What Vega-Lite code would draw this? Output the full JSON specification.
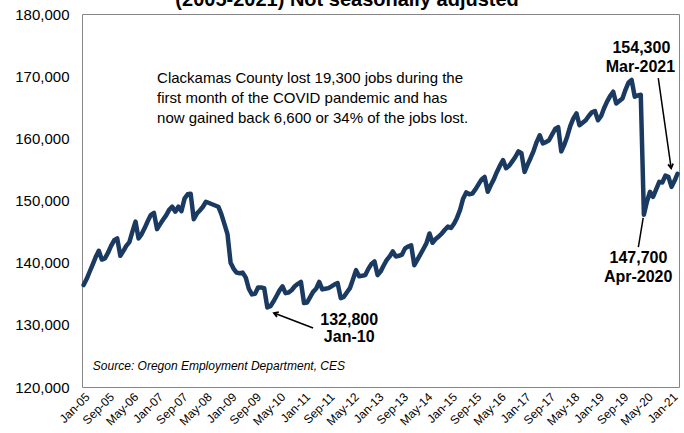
{
  "$schema": "https://vega.github.io/schema/vega-lite/v6.json",
  "autosize": {"type": "none"},
  "padding": {"left": 82, "top": 14, "right": 5, "bottom": 46},
  "width": 597,
  "height": 373,
  "background": "white",
  "config": {
    "view": {"stroke": "#868686", "strokeWidth": 1},
    "font": "Liberation Sans",
    "axis": {"labelFont": "Liberation Sans", "labelColor": "#000000", "grid": false, "ticks": false, "domain": false, "title": null}
  },
  "datasets": {
    "jobs": [
      {"date": "2005-01-01", "jobs": 136400}, {"date": "2005-02-01", "jobs": 137400}, {"date": "2005-03-01", "jobs": 138500}, {"date": "2005-04-01", "jobs": 139700}, {"date": "2005-05-01", "jobs": 140900}, {"date": "2005-06-01", "jobs": 141900}, {"date": "2005-07-01", "jobs": 140500}, {"date": "2005-08-01", "jobs": 140700}, {"date": "2005-09-01", "jobs": 141600}, {"date": "2005-10-01", "jobs": 142700}, {"date": "2005-11-01", "jobs": 143600}, {"date": "2005-12-01", "jobs": 143900},
      {"date": "2006-01-01", "jobs": 141100}, {"date": "2006-02-01", "jobs": 141900}, {"date": "2006-03-01", "jobs": 142700}, {"date": "2006-04-01", "jobs": 143300}, {"date": "2006-05-01", "jobs": 145000}, {"date": "2006-06-01", "jobs": 146600}, {"date": "2006-07-01", "jobs": 143900}, {"date": "2006-08-01", "jobs": 144600}, {"date": "2006-09-01", "jobs": 145600}, {"date": "2006-10-01", "jobs": 146700}, {"date": "2006-11-01", "jobs": 147700}, {"date": "2006-12-01", "jobs": 148000},
      {"date": "2007-01-01", "jobs": 145400}, {"date": "2007-02-01", "jobs": 146200}, {"date": "2007-03-01", "jobs": 146900}, {"date": "2007-04-01", "jobs": 147600}, {"date": "2007-05-01", "jobs": 148500}, {"date": "2007-06-01", "jobs": 149000}, {"date": "2007-07-01", "jobs": 148200}, {"date": "2007-08-01", "jobs": 149000}, {"date": "2007-09-01", "jobs": 148300}, {"date": "2007-10-01", "jobs": 150300}, {"date": "2007-11-01", "jobs": 151000}, {"date": "2007-12-01", "jobs": 151100},
      {"date": "2008-01-01", "jobs": 147000}, {"date": "2008-02-01", "jobs": 147900}, {"date": "2008-03-01", "jobs": 148400}, {"date": "2008-04-01", "jobs": 149000}, {"date": "2008-05-01", "jobs": 149800}, {"date": "2008-06-01", "jobs": 149600}, {"date": "2008-07-01", "jobs": 149400}, {"date": "2008-08-01", "jobs": 149200}, {"date": "2008-09-01", "jobs": 149000}, {"date": "2008-10-01", "jobs": 147800}, {"date": "2008-11-01", "jobs": 146200}, {"date": "2008-12-01", "jobs": 144600},
      {"date": "2009-01-01", "jobs": 140000}, {"date": "2009-02-01", "jobs": 139000}, {"date": "2009-03-01", "jobs": 138400}, {"date": "2009-04-01", "jobs": 138300}, {"date": "2009-05-01", "jobs": 138400}, {"date": "2009-06-01", "jobs": 137600}, {"date": "2009-07-01", "jobs": 135800}, {"date": "2009-08-01", "jobs": 134900}, {"date": "2009-09-01", "jobs": 135000}, {"date": "2009-10-01", "jobs": 136000}, {"date": "2009-11-01", "jobs": 136000}, {"date": "2009-12-01", "jobs": 135900},
      {"date": "2010-01-01", "jobs": 132800}, {"date": "2010-02-01", "jobs": 133000}, {"date": "2010-03-01", "jobs": 133700}, {"date": "2010-04-01", "jobs": 134600}, {"date": "2010-05-01", "jobs": 135500}, {"date": "2010-06-01", "jobs": 136200}, {"date": "2010-07-01", "jobs": 135100}, {"date": "2010-08-01", "jobs": 135200}, {"date": "2010-09-01", "jobs": 135600}, {"date": "2010-10-01", "jobs": 136200}, {"date": "2010-11-01", "jobs": 136600}, {"date": "2010-12-01", "jobs": 136900},
      {"date": "2011-01-01", "jobs": 133500}, {"date": "2011-02-01", "jobs": 133600}, {"date": "2011-03-01", "jobs": 134400}, {"date": "2011-04-01", "jobs": 135300}, {"date": "2011-05-01", "jobs": 135800}, {"date": "2011-06-01", "jobs": 136900}, {"date": "2011-07-01", "jobs": 135700}, {"date": "2011-08-01", "jobs": 135800}, {"date": "2011-09-01", "jobs": 135900}, {"date": "2011-10-01", "jobs": 136200}, {"date": "2011-11-01", "jobs": 136500}, {"date": "2011-12-01", "jobs": 136700},
      {"date": "2012-01-01", "jobs": 134300}, {"date": "2012-02-01", "jobs": 134500}, {"date": "2012-03-01", "jobs": 135200}, {"date": "2012-04-01", "jobs": 135900}, {"date": "2012-05-01", "jobs": 137300}, {"date": "2012-06-01", "jobs": 138800}, {"date": "2012-07-01", "jobs": 137800}, {"date": "2012-08-01", "jobs": 137900}, {"date": "2012-09-01", "jobs": 138000}, {"date": "2012-10-01", "jobs": 139000}, {"date": "2012-11-01", "jobs": 139800}, {"date": "2012-12-01", "jobs": 140200},
      {"date": "2013-01-01", "jobs": 138000}, {"date": "2013-02-01", "jobs": 138600}, {"date": "2013-03-01", "jobs": 139500}, {"date": "2013-04-01", "jobs": 140400}, {"date": "2013-05-01", "jobs": 141000}, {"date": "2013-06-01", "jobs": 141800}, {"date": "2013-07-01", "jobs": 141000}, {"date": "2013-08-01", "jobs": 141100}, {"date": "2013-09-01", "jobs": 141300}, {"date": "2013-10-01", "jobs": 142300}, {"date": "2013-11-01", "jobs": 142600}, {"date": "2013-12-01", "jobs": 142800},
      {"date": "2014-01-01", "jobs": 139600}, {"date": "2014-02-01", "jobs": 140500}, {"date": "2014-03-01", "jobs": 141300}, {"date": "2014-04-01", "jobs": 142200}, {"date": "2014-05-01", "jobs": 143100}, {"date": "2014-06-01", "jobs": 144700}, {"date": "2014-07-01", "jobs": 143200}, {"date": "2014-08-01", "jobs": 143800}, {"date": "2014-09-01", "jobs": 144200}, {"date": "2014-10-01", "jobs": 144700}, {"date": "2014-11-01", "jobs": 145300}, {"date": "2014-12-01", "jobs": 145800},
      {"date": "2015-01-01", "jobs": 145600}, {"date": "2015-02-01", "jobs": 146300}, {"date": "2015-03-01", "jobs": 147200}, {"date": "2015-04-01", "jobs": 148500}, {"date": "2015-05-01", "jobs": 150300}, {"date": "2015-06-01", "jobs": 151300}, {"date": "2015-07-01", "jobs": 151000}, {"date": "2015-08-01", "jobs": 151100}, {"date": "2015-09-01", "jobs": 151800}, {"date": "2015-10-01", "jobs": 152600}, {"date": "2015-11-01", "jobs": 153400}, {"date": "2015-12-01", "jobs": 153800},
      {"date": "2016-01-01", "jobs": 151400}, {"date": "2016-02-01", "jobs": 152500}, {"date": "2016-03-01", "jobs": 153400}, {"date": "2016-04-01", "jobs": 154600}, {"date": "2016-05-01", "jobs": 155600}, {"date": "2016-06-01", "jobs": 156500}, {"date": "2016-07-01", "jobs": 155200}, {"date": "2016-08-01", "jobs": 155600}, {"date": "2016-09-01", "jobs": 156300}, {"date": "2016-10-01", "jobs": 157000}, {"date": "2016-11-01", "jobs": 157900}, {"date": "2016-12-01", "jobs": 157600},
      {"date": "2017-01-01", "jobs": 154600}, {"date": "2017-02-01", "jobs": 155800}, {"date": "2017-03-01", "jobs": 156800}, {"date": "2017-04-01", "jobs": 158000}, {"date": "2017-05-01", "jobs": 159400}, {"date": "2017-06-01", "jobs": 160500}, {"date": "2017-07-01", "jobs": 159200}, {"date": "2017-08-01", "jobs": 159400}, {"date": "2017-09-01", "jobs": 159700}, {"date": "2017-10-01", "jobs": 160600}, {"date": "2017-11-01", "jobs": 161500}, {"date": "2017-12-01", "jobs": 161800},
      {"date": "2018-01-01", "jobs": 157900}, {"date": "2018-02-01", "jobs": 159000}, {"date": "2018-03-01", "jobs": 160300}, {"date": "2018-04-01", "jobs": 162000}, {"date": "2018-05-01", "jobs": 163200}, {"date": "2018-06-01", "jobs": 164000}, {"date": "2018-07-01", "jobs": 162100}, {"date": "2018-08-01", "jobs": 162500}, {"date": "2018-09-01", "jobs": 162900}, {"date": "2018-10-01", "jobs": 163600}, {"date": "2018-11-01", "jobs": 164200}, {"date": "2018-12-01", "jobs": 164400},
      {"date": "2019-01-01", "jobs": 162900}, {"date": "2019-02-01", "jobs": 163600}, {"date": "2019-03-01", "jobs": 164800}, {"date": "2019-04-01", "jobs": 165900}, {"date": "2019-05-01", "jobs": 166800}, {"date": "2019-06-01", "jobs": 167500}, {"date": "2019-07-01", "jobs": 165600}, {"date": "2019-08-01", "jobs": 166000}, {"date": "2019-09-01", "jobs": 166400}, {"date": "2019-10-01", "jobs": 167800}, {"date": "2019-11-01", "jobs": 169000}, {"date": "2019-12-01", "jobs": 169400},
      {"date": "2020-01-01", "jobs": 166700}, {"date": "2020-02-01", "jobs": 166900}, {"date": "2020-03-01", "jobs": 167000}, {"date": "2020-04-01", "jobs": 147700}, {"date": "2020-05-01", "jobs": 149800}, {"date": "2020-06-01", "jobs": 151400}, {"date": "2020-07-01", "jobs": 150600}, {"date": "2020-08-01", "jobs": 151800}, {"date": "2020-09-01", "jobs": 153000}, {"date": "2020-10-01", "jobs": 152900}, {"date": "2020-11-01", "jobs": 154000}, {"date": "2020-12-01", "jobs": 153800},
      {"date": "2021-01-01", "jobs": 152200}, {"date": "2021-02-01", "jobs": 153200}, {"date": "2021-03-01", "jobs": 154300}
    ],
    "notes": [
      {"kind": "title", "date": "2012-03-04", "jobs": 181300, "text": "(2005-2021) Not seasonally adjusted"},
      {"kind": "body", "date": "2007-01-01", "jobs": 169700, "text": "Clackamas County lost 19,300 jobs during the"},
      {"kind": "body", "date": "2007-01-01", "jobs": 166500, "text": "first month of the COVID pandemic and has"},
      {"kind": "body", "date": "2007-01-01", "jobs": 163300, "text": "now gained back 6,600 or 34% of the jobs lost."},
      {"kind": "value", "date": "2012-03-25", "jobs": 130800, "text": "132,800"},
      {"kind": "value", "date": "2012-03-25", "jobs": 128000, "text": "Jan-10"},
      {"kind": "value", "date": "2020-03-07", "jobs": 174500, "text": "154,300"},
      {"kind": "value", "date": "2020-02-27", "jobs": 171500, "text": "Mar-2021"},
      {"kind": "value", "date": "2020-02-07", "jobs": 140750, "text": "147,700"},
      {"kind": "value", "date": "2020-02-04", "jobs": 137700, "text": "Apr-2020"},
      {"kind": "source", "date": "2005-04-03", "jobs": 123400, "text": "Source: Oregon Employment Department, CES"}
    ],
    "arrows": [
      {"name": "jan10", "date": "2011-04-01", "jobs": 129500, "date2": "2010-03-08", "jobs2": 131900},
      {"name": "mar21", "date": "2020-08-22", "jobs": 169700, "date2": "2020-12-28", "jobs2": 155200},
      {"name": "apr20", "date": "2020-02-06", "jobs": 142500, "date2": "2020-03-25", "jobs2": 147200}
    ]
  },
  "layer": [
    {
      "data": {"name": "jobs"},
      "mark": {"type": "line", "color": "#1b3a61", "strokeWidth": 4.5, "strokeJoin": "round", "strokeCap": "round"},
      "encoding": {
        "x": {
          "field": "date", "type": "temporal",
          "scale": {"type": "utc", "domain": [{"year": 2004, "month": 12, "date": 16, "utc": true}, {"year": 2021, "month": 3, "date": 16, "utc": true}]},
          "axis": {
            "format": "%b-%y", "labelAngle": -45, "labelFontSize": 12, "labelPadding": 4, "labelOverlap": false, "labelBound": false, "labelFlush": false, "tickCount": 200,
            "values": [
              {"year": 2005, "month": 1, "date": 1, "utc": true}, {"year": 2005, "month": 9, "date": 1, "utc": true}, {"year": 2006, "month": 5, "date": 1, "utc": true},
              {"year": 2007, "month": 1, "date": 1, "utc": true}, {"year": 2007, "month": 9, "date": 1, "utc": true}, {"year": 2008, "month": 5, "date": 1, "utc": true},
              {"year": 2009, "month": 1, "date": 1, "utc": true}, {"year": 2009, "month": 9, "date": 1, "utc": true}, {"year": 2010, "month": 5, "date": 1, "utc": true},
              {"year": 2011, "month": 1, "date": 1, "utc": true}, {"year": 2011, "month": 9, "date": 1, "utc": true}, {"year": 2012, "month": 5, "date": 1, "utc": true},
              {"year": 2013, "month": 1, "date": 1, "utc": true}, {"year": 2013, "month": 9, "date": 1, "utc": true}, {"year": 2014, "month": 5, "date": 1, "utc": true},
              {"year": 2015, "month": 1, "date": 1, "utc": true}, {"year": 2015, "month": 9, "date": 1, "utc": true}, {"year": 2016, "month": 5, "date": 1, "utc": true},
              {"year": 2017, "month": 1, "date": 1, "utc": true}, {"year": 2017, "month": 9, "date": 1, "utc": true}, {"year": 2018, "month": 5, "date": 1, "utc": true},
              {"year": 2019, "month": 1, "date": 1, "utc": true}, {"year": 2019, "month": 9, "date": 1, "utc": true}, {"year": 2020, "month": 5, "date": 1, "utc": true},
              {"year": 2021, "month": 1, "date": 1, "utc": true}
            ]
          }
        },
        "y": {
          "field": "jobs", "type": "quantitative",
          "scale": {"domain": [120000, 180000], "nice": false, "zero": false},
          "axis": {"values": [120000, 130000, 140000, 150000, 160000, 170000, 180000], "format": ",d", "labelFontSize": 15, "labelPadding": 13}
        }
      }
    },
    {
      "data": {"name": "notes"},
      "transform": [{"filter": "datum.kind === 'title'"}],
      "mark": {"type": "text", "align": "center", "baseline": "alphabetic", "fontSize": 20, "fontWeight": "bold", "font": "Liberation Sans", "color": "#000000", "clip": false},
      "encoding": {
        "x": {"field": "date", "type": "temporal"},
        "y": {"field": "jobs", "type": "quantitative"},
        "text": {"field": "text"}
      }
    },
    {
      "data": {"name": "notes"},
      "transform": [{"filter": "datum.kind === 'body'"}],
      "mark": {"type": "text", "align": "left", "baseline": "middle", "fontSize": 15, "font": "Liberation Sans", "color": "#000000"},
      "encoding": {
        "x": {"field": "date", "type": "temporal"},
        "y": {"field": "jobs", "type": "quantitative"},
        "text": {"field": "text"}
      }
    },
    {
      "data": {"name": "notes"},
      "transform": [{"filter": "datum.kind === 'value'"}],
      "mark": {"type": "text", "align": "center", "baseline": "middle", "fontSize": 16, "fontWeight": "bold", "font": "Liberation Sans", "color": "#000000"},
      "encoding": {
        "x": {"field": "date", "type": "temporal"},
        "y": {"field": "jobs", "type": "quantitative"},
        "text": {"field": "text"}
      }
    },
    {
      "data": {"name": "notes"},
      "transform": [{"filter": "datum.kind === 'source'"}],
      "mark": {"type": "text", "align": "left", "baseline": "middle", "fontSize": 12, "fontStyle": "italic", "font": "Liberation Sans", "color": "#000000"},
      "encoding": {
        "x": {"field": "date", "type": "temporal"},
        "y": {"field": "jobs", "type": "quantitative"},
        "text": {"field": "text"}
      }
    },
    {
      "data": {"name": "arrows"},
      "mark": {"type": "rule", "color": "#000000", "strokeWidth": 1.5},
      "encoding": {
        "x": {"field": "date", "type": "temporal"},
        "y": {"field": "jobs", "type": "quantitative"},
        "x2": {"field": "date2"},
        "y2": {"field": "jobs2"}
      }
    },
    {
      "data": {"name": "arrows"},
      "transform": [{"filter": "datum.name === 'jan10'"}],
      "mark": {"type": "point", "shape": "M -0.6 1 L 0 0 L 0.6 1", "filled": false, "stroke": "#000000", "strokeWidth": 1.8, "size": 70, "angle": 291, "opacity": 1},
      "encoding": {
        "x": {"field": "date2", "type": "temporal"},
        "y": {"field": "jobs2", "type": "quantitative"}
      }
    },
    {
      "data": {"name": "arrows"},
      "transform": [{"filter": "datum.name === 'mar21'"}],
      "mark": {"type": "point", "shape": "M -0.6 1 L 0 0 L 0.6 1", "filled": false, "stroke": "#000000", "strokeWidth": 1.8, "size": 70, "angle": 172, "opacity": 1},
      "encoding": {
        "x": {"field": "date2", "type": "temporal"},
        "y": {"field": "jobs2", "type": "quantitative"}
      }
    }
  ]
}
